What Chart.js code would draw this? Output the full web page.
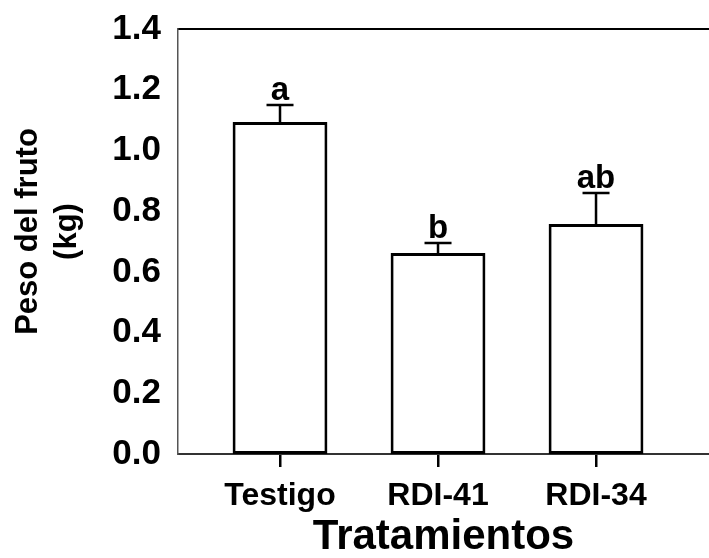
<!DOCTYPE html>
<html>
<head>
<meta charset="utf-8">
<script src="https://cdn.jsdelivr.net/npm/chart.js@4.4.1/dist/chart.umd.min.js"></script>
<style>
  html, body { margin: 0; padding: 0; background: #fff; }
  #chart { display: block; }
</style>
</head>
<body>
<canvas id="chart" width="709" height="558"></canvas>
<script>
const categories = ["Testigo", "RDI-41", "RDI-34"];
const positions = [1, 2, 3];
const means = [1.094, 0.662, 0.758];
const errors = [0.056, 0.033, 0.102];
const letters = ["a", "b", "ab"];
const yTicks = [0, 0.2, 0.4, 0.6, 0.8, 1.0, 1.2, 1.4];
const yTitle = ["Peso del fruto", "(kg)"];

const fontFamily = "'Liberation Sans', Arial, sans-serif";

// error bars (upper only) and significance letters
const errorBars = {
    id: "errorBars",
    afterDatasetsDraw(chart) {
        const ctx = chart.ctx;
        const y = chart.scales.y;
        const meta = chart.getDatasetMeta(0);
        ctx.save();
        ctx.strokeStyle = "#000";
        ctx.fillStyle = "#000";
        ctx.lineWidth = 2.5;
        meta.data.forEach((bar, i) => {
            const top = y.getPixelForValue(means[i] + errors[i]);
            ctx.beginPath();
            ctx.moveTo(bar.x, bar.y);
            ctx.lineTo(bar.x, top);
            ctx.moveTo(bar.x - 13.5, top);
            ctx.lineTo(bar.x + 13.5, top);
            ctx.stroke();

            ctx.font = "bold 33px " + fontFamily;
            ctx.textAlign = "center";
            ctx.textBaseline = "alphabetic";
            ctx.fillText(letters[i], bar.x, top - 5);
        });
        ctx.restore();
    }
};

// y title drawn by hand so it can sit a bit above the plot centre
const yTitlePlugin = {
    id: "yTitle",
    afterDraw(chart) {
        const ctx = chart.ctx;
        const area = chart.chartArea;
        const cy = (area.top + area.bottom) / 2 - 10;
        ctx.save();
        ctx.fillStyle = "#000";
        ctx.font = "bold 31px " + fontFamily;
        ctx.textAlign = "center";
        ctx.textBaseline = "middle";
        [28, 67].forEach((cx, i) => {
            ctx.save();
            ctx.translate(cx, cy);
            ctx.rotate(-Math.PI / 2);
            ctx.fillText(yTitle[i], 0, 0);
            ctx.restore();
        });
        ctx.restore();
    }
};

new Chart(document.getElementById("chart"), {
    type: "bar",
    data: {
        datasets: [{
            data: positions.map((p, i) => ({ x: p, y: means[i] })),
            backgroundColor: "#fff",
            borderColor: "#000",
            borderWidth: 3,
            borderSkipped: false,
            barPercentage: 0.6,
            categoryPercentage: 1.0
        }]
    },
    options: {
        responsive: false,
        animation: false,
        devicePixelRatio: 1,
        layout: { padding: { top: 29, right: 0, left: 0, bottom: 0 } },
        plugins: {
            legend: { display: false },
            tooltip: { enabled: false }
        },
        scales: {
            x: {
                type: "linear",
                position: "bottom",
                offset: false,
                min: 0.3544,
                max: 3.715,
                afterBuildTicks: scale => {
                    scale.ticks = positions.map(v => ({ value: v }));
                },
                afterFit: scale => {
                    scale.height = 104;
                    scale.paddingLeft = 0;
                    scale.paddingRight = 0;
                },
                ticks: {
                    autoSkip: false,
                    maxRotation: 0,
                    padding: 10,
                    color: "#000",
                    font: { family: fontFamily, size: 32, weight: "bold" },
                    callback: v => categories[positions.indexOf(v)] || ""
                },
                grid: {
                    display: true,
                    offset: false,
                    drawOnChartArea: false,
                    drawTicks: true,
                    tickLength: 13,
                    color: "#000",
                    lineWidth: 2.5
                },
                border: { display: true, color: "#333", width: 2 },
                title: {
                    display: true,
                    text: "Tratamientos",
                    color: "#000",
                    font: { family: fontFamily, size: 42, weight: "bold", lineHeight: 1.0 },
                    padding: { top: 0, bottom: 0 }
                }
            },
            x2: {
                type: "linear",
                position: "top",
                offset: false,
                min: 0.3544,
                max: 3.715,
                afterFit: scale => { scale.height = 0; },
                ticks: { display: false },
                grid: { display: false, drawTicks: false },
                border: { display: true, color: "#000", width: 2 }
            },
            y: {
                min: 0,
                max: 1.4,
                afterBuildTicks: scale => {
                    scale.ticks = yTicks.map(v => ({ value: v }));
                },
                afterFit: scale => {
                    scale.width = 178;
                    scale.paddingTop = 0;
                    scale.paddingBottom = 0;
                },
                ticks: {
                    padding: 17,
                    color: "#000",
                    font: { family: fontFamily, size: 35, weight: "bold" },
                    callback: v => v.toFixed(1)
                },
                grid: { display: false, drawTicks: false, tickLength: 0 },
                border: { display: true, color: "#555", width: 1.5 }
            }
        }
    },
    plugins: [errorBars, yTitlePlugin]
});
</script>
</body>
</html>
